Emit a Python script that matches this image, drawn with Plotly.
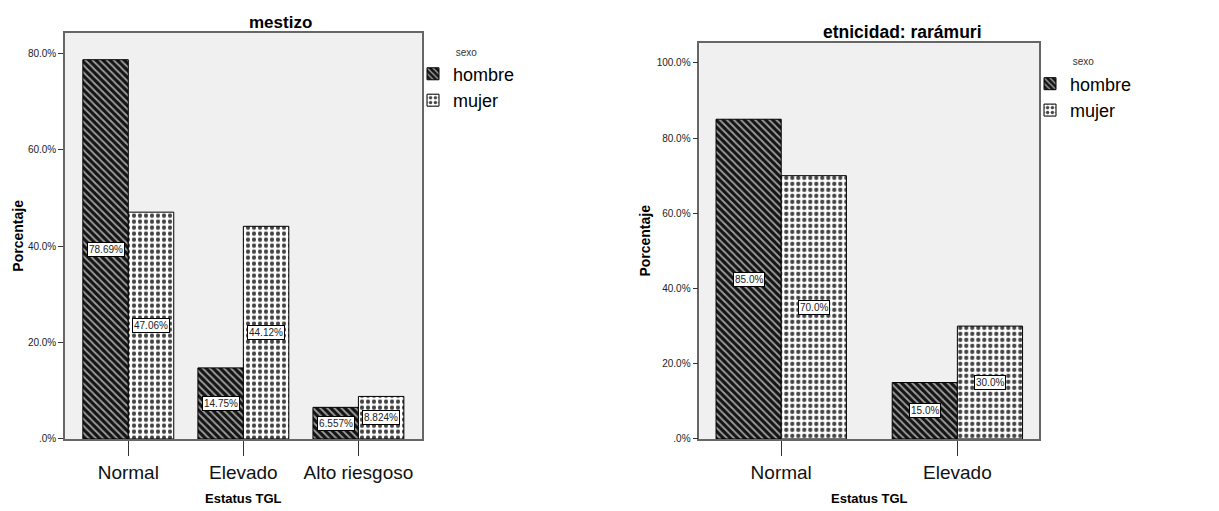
import plotly.graph_objects as go

W, H = 1219, 511

# ---- data ----
cats_left = ["Normal", "Elevado", "Alto riesgoso"]
hombre_left = [78.69, 14.75, 6.557]
mujer_left = [47.06, 44.12, 8.824]
hombre_left_lbl = ["78.69%", "14.75%", "6.557%"]
mujer_left_lbl = ["47.06%", "44.12%", "8.824%"]

cats_right = ["Normal", "Elevado"]
hombre_right = [85.0, 15.0]
mujer_right = [70.0, 30.0]
hombre_right_lbl = ["85.0%", "15.0%"]
mujer_right_lbl = ["70.0%", "30.0%"]

ytick_left = [0, 20, 40, 60, 80]
ytick_left_txt = [".0%", "20.0%", "40.0%", "60.0%", "80.0%"]
ytick_right = [0, 20, 40, 60, 80, 100]
ytick_right_txt = [".0%", "20.0%", "40.0%", "60.0%", "80.0%", "100.0%"]

FONT = "Arial, Liberation Sans, sans-serif"

def px_x(p):
    return p / W

def px_y(p):
    return 1 - p / H

hombre_marker = dict(
    color="#1a1a1a",
    line=dict(color="#000000", width=1),
    pattern=dict(shape="\\", bgcolor="#141414", fgcolor="#a0a0a0",
                 size=5, solidity=0.35, fillmode="replace"),
)
mujer_marker = dict(
    color="#ffffff",
    line=dict(color="#000000", width=1),
    pattern=dict(shape=".", bgcolor="#ffffff", fgcolor="#444444",
                 size=6, solidity=0.4, fillmode="replace"),
)

fig = go.Figure()

wl = 0.395
wr = 0.37

fig.add_trace(go.Bar(x=cats_left, y=hombre_left, name="hombre", marker=hombre_marker,
                     width=wl, offset=-wl, xaxis="x", yaxis="y", legend="legend",
                     legendgroup="h1", hoverinfo="skip"))
fig.add_trace(go.Bar(x=cats_left, y=mujer_left, name="mujer", marker=mujer_marker,
                     width=wl, offset=0, xaxis="x", yaxis="y", legend="legend",
                     legendgroup="m1", hoverinfo="skip"))
fig.add_trace(go.Bar(x=cats_right, y=hombre_right, name="hombre", marker=hombre_marker,
                     width=wr, offset=-wr, xaxis="x2", yaxis="y2", legend="legend2",
                     legendgroup="h2", hoverinfo="skip"))
fig.add_trace(go.Bar(x=cats_right, y=mujer_right, name="mujer", marker=mujer_marker,
                     width=wr, offset=0, xaxis="x2", yaxis="y2", legend="legend2",
                     legendgroup="m2", hoverinfo="skip"))

annotations = []

def add_labels(vals, lbls, shift, xref, yref):
    for i, (v, t) in enumerate(zip(vals, lbls)):
        annotations.append(dict(
            x=i + shift, y=v / 2, xref=xref, yref=yref, text=t, showarrow=False,
            font=dict(family=FONT, size=10, color="#222222"),
            bgcolor="#ffffff", bordercolor="#000000", borderwidth=1, borderpad=1,
        ))

add_labels(hombre_left, hombre_left_lbl, -wl / 2, "x", "y")
add_labels(mujer_left, mujer_left_lbl, wl / 2, "x", "y")
add_labels(hombre_right, hombre_right_lbl, -wr / 2, "x2", "y2")
add_labels(mujer_right, mujer_right_lbl, wr / 2, "x2", "y2")

def paper_text(text, x, y, size, bold=False, angle=0, color="#000000"):
    annotations.append(dict(
        x=px_x(x), y=px_y(y), xref="paper", yref="paper",
        text=f"<b>{text}</b>" if bold else text, showarrow=False,
        textangle=angle, xanchor="center", yanchor="middle",
        font=dict(family=FONT, size=size, color=color),
    ))

paper_text("mestizo", 280, 23, 17, bold=True)
paper_text("etnicidad: rarámuri", 902, 32, 17.5, bold=True)
paper_text("Estatus TGL", 243, 503, 13, bold=True)
paper_text("Estatus TGL", 869.5, 503, 13, bold=True)
paper_text("Porcentaje", 18, 238, 14, bold=True, angle=-90)
paper_text("Porcentaje", 645, 243, 14, bold=True, angle=-90)

xaxis_common = dict(
    type="category", showline=True, mirror=True, linecolor="#666666", linewidth=1.5,
    ticks="outside", ticklen=15, tickcolor="#333333", tickwidth=1,
    tickfont=dict(family=FONT, size=19, color="#111111"), showgrid=False,
    zeroline=False, fixedrange=True,
)
yaxis_common = dict(
    showline=True, mirror=True, linecolor="#666666", linewidth=1.5,
    ticks="outside", ticklen=5, tickcolor="#333333", tickwidth=1,
    tickfont=dict(family=FONT, size=10, color="#222222"), showgrid=False,
    zeroline=False, fixedrange=True,
)

legend_common = dict(
    xanchor="left", yanchor="top",
    bgcolor="rgba(0,0,0,0)", borderwidth=0,
    font=dict(family=FONT, size=18, color="#000000"),
    title=dict(text="sexo", side="top center", font=dict(family=FONT, size=10, color="#333333")),
    tracegroupgap=0, itemwidth=30,
)

fig.update_layout(
    width=W, height=H,
    margin=dict(l=0, r=0, t=0, b=0),
    paper_bgcolor="#ffffff",
    plot_bgcolor="#f0f0f0",
    font=dict(family=FONT, color="#000000"),
    barmode="overlay",
    xaxis=dict(xaxis_common, domain=[px_x(65), px_x(421.7)], range=[-0.55, 2.55], anchor="y"),
    yaxis=dict(yaxis_common, domain=[px_y(443.3), px_y(33)], range=[0, 84.3],
               tickvals=ytick_left, ticktext=ytick_left_txt, anchor="x"),
    xaxis2=dict(xaxis_common, domain=[px_x(699.3), px_x(1039.3)], range=[-0.465, 1.465], anchor="y2"),
    yaxis2=dict(yaxis_common, domain=[px_y(443.3), px_y(43.3)], range=[0, 105.3],
                tickvals=ytick_right, ticktext=ytick_right_txt, anchor="x2"),
    legend=dict(legend_common, x=px_x(413), y=px_y(43)),
    legend2=dict(legend_common, x=px_x(1030), y=px_y(53)),
    annotations=annotations,
    showlegend=True,
)

fig.write_html("out.html")
